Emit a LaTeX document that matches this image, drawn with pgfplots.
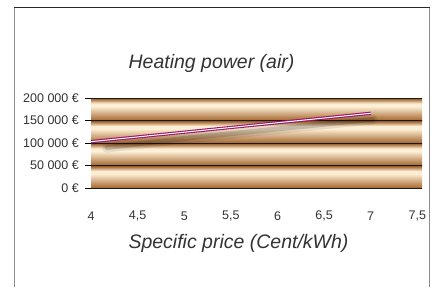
\documentclass[border=0pt]{standalone}
\usepackage{fontspec}
\setmainfont{Liberation Sans}
\usepackage{pgfplots}
\pgfplotsset{compat=1.18}
\definecolor{txt}{HTML}{333333}
\definecolor{bdark}{HTML}{8E4C14}
\definecolor{bcream}{HTML}{FCEDD3}
\definecolor{bbot}{HTML}{A4662E}
\definecolor{lpurple}{HTML}{9E1468}
\begin{document}
\begin{tikzpicture}[x=1pt,y=1pt]
\useasboundingbox (0,0) rectangle (436,287);
% frame
\draw[color=black!45, line width=1.6pt] (14.5,0) -- (14.5,280);
\draw[color=black!45, line width=1.6pt] (429.5,0) -- (429.5,280);
\draw[color=black!85, line width=0.9pt] (14,280) -- (430,280);
% background bands
\foreach \t in {189,166.5,144,121.5} {
  \shade[top color=bdark, bottom color=bcream] (91,\t) rectangle (422,\t-5.5);
  \fill[bcream] (91,\t-5.5) rectangle (422,\t-8.5);
  \shade[top color=bcream, bottom color=bbot] (91,\t-8.5) rectangle (422,\t-22.5);
}
\begin{axis}[
  at={(91pt,99pt)}, anchor=south west,
  width=331pt, height=90pt, scale only axis,
  xmin=4, xmax=7.55, ymin=0, ymax=200000,
  scaled y ticks=false,
  axis line style={draw=none},
  ytick={0,50000,100000,150000,200000},
  yticklabels={{0 €},{50 000 €},{100 000 €},{150 000 €},{200 000 €}},
  xtick={4,4.5,5,5.5,6,6.5,7,7.5},
  xticklabels={4,{4,5},5,{5,5},6,{6,5},7,{7,5}},
  ytick pos=left, xtick pos=bottom,
  tick align=outside, major tick length=6pt,
  ytick style={black, line width=0.8pt},
  xtick style={draw=none},
  ymajorgrids, grid style={black!90, line width=0.8pt},
  yticklabel style={font=\fontsize{12.5}{14}\selectfont, text=txt, anchor=east, inner sep=0pt, xshift=-6pt},
  xticklabel style={font=\fontsize{12.5}{14}\selectfont, text=txt, anchor=center, inner sep=0pt, yshift=-22pt},
  clip=false,
]
\addplot[black, opacity=0.08, line width=10pt, xshift=2pt, yshift=-6pt, line cap=round] coordinates {(4.15,103000) (5,124000) (6,145000) (7,166000)};
\addplot[black, opacity=0.15, line width=5pt, xshift=2pt, yshift=-6pt, line cap=round] coordinates {(4.15,103000) (5,124000) (6,145000) (7,166000)};
\addplot[lpurple, line width=3.2pt] coordinates {(4,103000) (5,124000) (6,145000) (7,166000)};
\addplot[white, line width=1.0pt] coordinates {(4,103000) (5,124000) (6,145000) (7,166000)};
\end{axis}
\node[font=\fontsize{19.5}{22}\selectfont\itshape, text=txt, anchor=base, inner sep=0pt] at (211.5,218.7) {Heating power (air)};
\node[font=\fontsize{19.5}{22}\selectfont\itshape, text=txt, anchor=base, inner sep=0pt] at (238.5,39) {Specific price (Cent/kWh)};
\end{tikzpicture}
\end{document}
